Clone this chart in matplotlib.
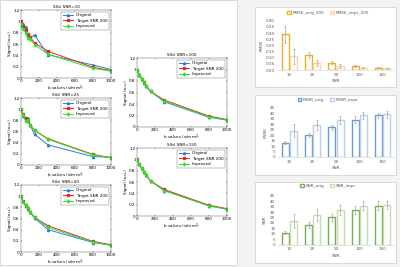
import numpy as np
import matplotlib
matplotlib.use("Agg")
import matplotlib.pyplot as plt
from matplotlib.patches import Rectangle

W, H = 400, 267

# ---- line plot data: S(b) curves ----
b_values = [0, 25, 50, 75, 100, 150, 300, 800, 1000]
target = [1.00, 0.91, 0.84, 0.78, 0.72, 0.62, 0.47, 0.19, 0.13]

snr10_orig = [0.92, 0.96, 0.90, 0.74, 0.70, 0.76, 0.41, 0.23, 0.15]
snr10_impr = [0.95, 0.87, 0.80, 0.70, 0.68, 0.59, 0.42, 0.17, 0.12]
snr25_orig = [1.00, 0.87, 0.80, 0.84, 0.72, 0.55, 0.36, 0.15, 0.14]
snr25_impr = [1.00, 0.89, 0.79, 0.80, 0.72, 0.62, 0.46, 0.18, 0.13]
snr50_orig = [1.00, 0.91, 0.83, 0.77, 0.71, 0.61, 0.40, 0.17, 0.12]
snr50_impr = [1.00, 0.90, 0.84, 0.78, 0.72, 0.62, 0.44, 0.18, 0.12]
snr100_orig = [1.00, 0.91, 0.84, 0.77, 0.72, 0.62, 0.44, 0.17, 0.12]
snr100_impr = [1.00, 0.91, 0.84, 0.78, 0.72, 0.62, 0.45, 0.18, 0.12]
snr150_orig = [1.00, 0.91, 0.84, 0.78, 0.72, 0.62, 0.45, 0.18, 0.12]
snr150_impr = [1.00, 0.91, 0.84, 0.78, 0.72, 0.62, 0.45, 0.18, 0.12]

# ---- bar chart data ----
snr_levels = ["10", "25", "50", "100", "150"]
rmse_orig = [0.29, 0.12, 0.06, 0.03, 0.02]
rmse_orig_err = [0.07, 0.025, 0.015, 0.008, 0.006]
rmse_impr = [0.11, 0.06, 0.03, 0.02, 0.015]
rmse_impr_err = [0.06, 0.025, 0.015, 0.007, 0.005]
psnr_orig = [13, 20, 27, 34, 38]
psnr_orig_err = [1.5, 2, 2.5, 3, 2.5]
psnr_impr = [24, 29, 34, 38, 39]
psnr_impr_err = [6, 4.5, 3.5, 3, 3]
snr_orig = [11, 18, 25, 32, 36]
snr_orig_err = [1.5, 2.5, 3, 3.5, 4]
snr_impr = [22, 27, 32, 36, 36.5]
snr_impr_err = [6.5, 5.5, 4.5, 4, 3.5]

FS = 3.0


def px(x0, y0, x1, y1):
    return [x0 / W, 1 - y1 / H, (x1 - x0) / W, (y1 - y0) / H]


fig = plt.figure(figsize=(4, 2.67), dpi=100, facecolor="#f3f3f3")

# white panels behind everything
for (x0, y0, x1, y1) in [(0, 0, 237, 265), (255, 7, 396, 87),
                         (255, 95, 396, 175), (255, 182, 396, 263)]:
    fig.patches.append(Rectangle((x0 / W, 1 - y1 / H), (x1 - x0) / W, (y1 - y0) / H,
                                 transform=fig.transFigure, facecolor="white",
                                 edgecolor="#d4d4d4", lw=0.6, zorder=-5))


def line_panel(box, title, orig, impr):
    ax = fig.add_axes(px(*box))
    ax.plot(b_values, orig, "-^", color="#2a7fd4", lw=0.7, ms=1.6, label="Original")
    ax.plot(b_values, target, "-s", color="#f02020", lw=0.7, ms=1.4, label="Target SNR 200")
    ax.plot(b_values, impr, "-d", color="#26e626", lw=0.7, ms=1.6, label="Improved")
    ax.set_xlim(0, 1000)
    ax.set_ylim(0, 1.2)
    ax.set_xticks(range(0, 1001, 200))
    ax.set_yticks([0, 0.2, 0.4, 0.6, 0.8, 1.0, 1.2])
    ax.set_yticklabels(["0", "0.2", "0.4", "0.6", "0.8", "1", "1.2"])
    ax.tick_params(labelsize=FS, length=1, width=0.3, pad=1, direction="in",
                   top=True, right=True)
    for s in ax.spines.values():
        s.set_linewidth(0.3)
        s.set_color("#444444")
    ax.set_title(title, fontsize=FS, pad=1.2)
    ax.set_xlabel("b-values (s/mm$^2$)", fontsize=FS, labelpad=0.5)
    ax.set_ylabel("Signal (a.u.)", fontsize=FS, labelpad=1)
    leg = ax.legend(loc="upper right", fontsize=FS, frameon=True, fancybox=False,
                    borderpad=0.4, handlelength=2.4, labelspacing=0.35,
                    borderaxespad=0.4)
    leg.get_frame().set_linewidth(0.3)
    leg.get_frame().set_edgecolor("#444444")
    return ax


line_panel((21, 10, 111, 78), "S(b) SNR=10", snr10_orig, snr10_impr)
line_panel((21, 98, 111, 165), "S(b) SNR=25", snr25_orig, snr25_impr)
line_panel((21, 185, 111, 252), "S(b) SNR=50", snr50_orig, snr50_impr)
line_panel((137, 58, 227, 127), "S(b) SNR=100", snr100_orig, snr100_impr)
line_panel((137, 148, 227, 216), "S(b) SNR=150", snr150_orig, snr150_impr)


def bar_panel(box, leg_y, vals, ylabel, names, colors, yticks, fmt):
    (o, oe, i, ie) = vals
    ax = fig.add_axes(px(*box))
    ax.set_facecolor("none")
    x = np.arange(len(snr_levels))
    bw = 0.3
    ekw = dict(ecolor="#a6a6a6", elinewidth=0.5, capsize=0.8, capthick=0.5)
    ax.bar(x - 0.18, o, bw, yerr=oe, facecolor="white", edgecolor=colors[0], lw=1.0,
           error_kw=ekw, label=names[0])
    ax.bar(x + 0.18, i, bw, yerr=ie, facecolor="white", edgecolor=colors[1], lw=1.0,
           error_kw=ekw, label=names[1])
    ax.set_xlim(-0.5, len(snr_levels) - 0.5)
    ax.set_ylim(yticks[0], yticks[-1])
    ax.set_yticks(yticks)
    ax.set_yticklabels([fmt.format(t) for t in yticks])
    ax.set_xticks(x)
    ax.set_xticklabels(snr_levels)
    ax.tick_params(labelsize=FS, length=0, pad=2, colors="#595959")
    for s in ["top", "right", "left"]:
        ax.spines[s].set_visible(False)
    ax.spines["bottom"].set_linewidth(0.4)
    ax.spines["bottom"].set_color("#d0d0d0")
    ax.set_xlabel("SNR", fontsize=FS, labelpad=1.5, color="#595959")
    ax.set_ylabel(ylabel, fontsize=FS, labelpad=2, color="#595959")
    leg = ax.legend(loc="center", bbox_to_anchor=(328 / W, 1 - leg_y / H),
                    bbox_transform=fig.transFigure, ncol=2, fontsize=FS, frameon=False,
                    handlelength=0.8, handleheight=0.8, columnspacing=1.5,
                    handletextpad=0.4)
    for t in leg.get_texts():
        t.set_color("#595959")
    return ax


bar_panel((278, 20.7, 394, 70), 13, (rmse_orig, rmse_orig_err, rmse_impr, rmse_impr_err),
          "RMSE", ["RMSE_orig_200", "RMSE_impr_200"], ["#eeb11f", "#fbd59c"],
          [0, 0.05, 0.10, 0.15, 0.20, 0.25, 0.30, 0.35, 0.40], "{:.2f}")
bar_panel((278, 107.7, 394, 157), 100, (psnr_orig, psnr_orig_err, psnr_impr, psnr_impr_err),
          "PSNR", ["PSNR_orig", "PSNR_impr"], ["#6a9bd0", "#b6d0ee"],
          list(range(0, 46, 5)), "{:d}")
bar_panel((278, 195.7, 394, 244.7), 186, (snr_orig, snr_orig_err, snr_impr, snr_impr_err),
          "SNR", ["SNR_orig", "SNR_impr"], ["#78ad50", "#c3deae"],
          list(range(0, 46, 5)), "{:d}")

fig.savefig("out.png", dpi=100, facecolor=fig.get_facecolor())
